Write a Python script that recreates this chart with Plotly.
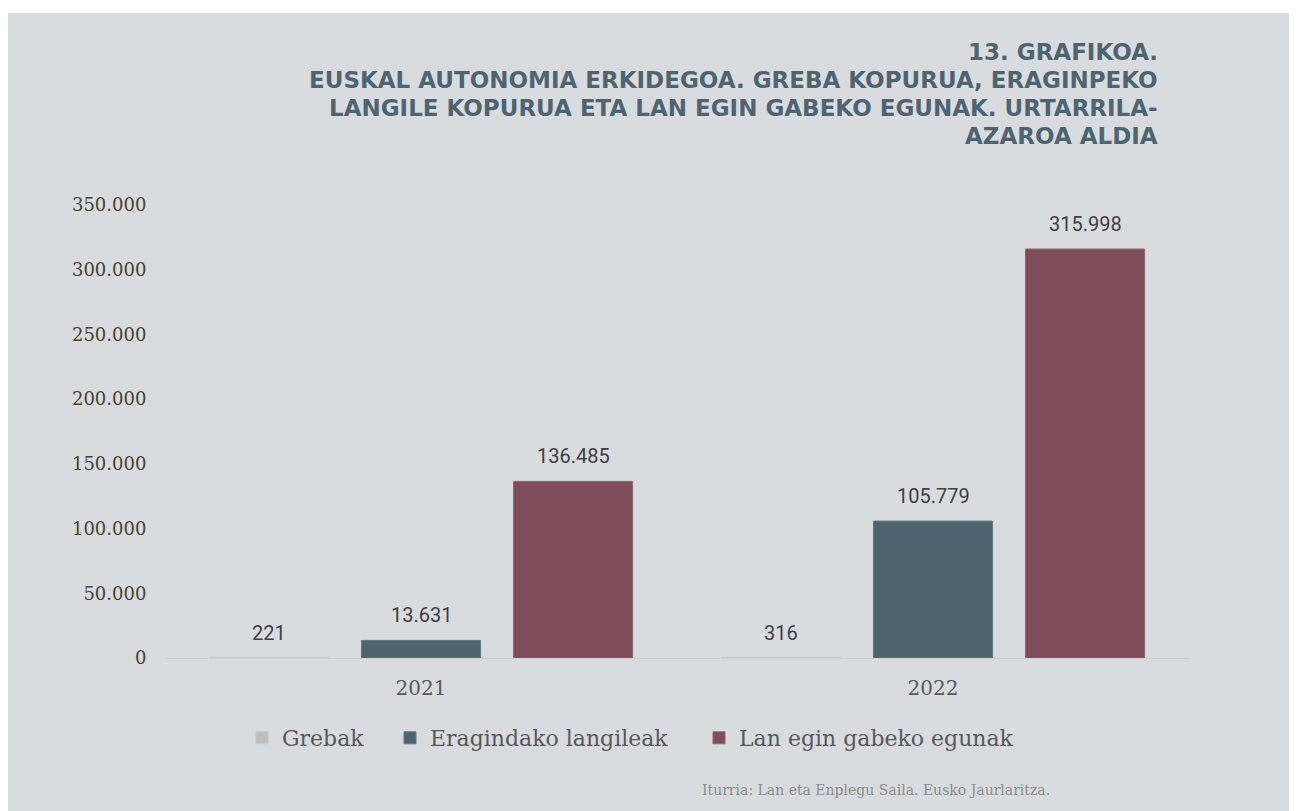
import plotly.graph_objects as go

years = ["2021", "2022"]
series_names = ["Grebak", "Eragindako langileak", "Lan egin gabeko egunak"]
grebak = [221, 316]
langileak = [13631, 105779]
egunak = [136485, 315998]
series_values = [grebak, langileak, egunak]
colors = ["#BFBFBF", "#4E6571", "#7E4C5A"]
line_colors = ["#C8C8C8", "#627883", "#93646F"]
y_ticks = [0, 50000, 100000, 150000, 200000, 250000, 300000, 350000]
y_tick_labels = ["0", "50.000", "100.000", "150.000", "200.000", "250.000", "300.000", "350.000"]
title_lines = [
    "13. GRAFIKOA.",
    "EUSKAL AUTONOMIA ERKIDEGOA. GREBA KOPURUA, ERAGINPEKO",
    "LANGILE KOPURUA ETA LAN EGIN GABEKO EGUNAK. URTARRILA-",
    "AZAROA ALDIA",
]
source_text = "Iturria: Lan eta Enplegu Saila. Eusko Jaurlaritza."

W, H = 1297, 803
ML, MR, MT, MB = 157, 116, 197, 153
PW = W - ML - MR
PH = H - MT - MB
BARGAP = 0.109
BARGROUPGAP = 0.217
BG = "#D9DCDF"
legend_x_px = [234, 382, 691]


def fmt(v):
    return f"{v:,}".replace(",", ".")


fig = go.Figure()
legend_ids = ["legend", "legend2", "legend3"]
for name, vals, c, lc, lid in zip(series_names, series_values, colors, line_colors, legend_ids):
    fig.add_trace(go.Bar(
        name=name, x=years, y=vals, legend=lid,
        marker=dict(color=c, line=dict(color=lc, width=1)),
    ))

annotations = []
# data labels
slot = PW / len(years) * (1 - BARGAP) / len(series_names)
for i, vals in enumerate(series_values):
    off = (i - (len(series_names) - 1) / 2) * slot
    for j, v in enumerate(vals):
        annotations.append(dict(
            x=j, y=v, xref="x", yref="y", text=fmt(v), showarrow=False,
            xshift=off, yshift=11, yanchor="bottom",
            font=dict(family="Roboto", size=20, color="#404040"),
        ))

# title lines
title_y_px = [44, 72, 100, 128]
for line, ypx in zip(title_lines, title_y_px):
    annotations.append(dict(
        x=(1152 - ML) / PW, y=(MT + PH - ypx) / PH, xref="paper", yref="paper",
        text=f"<b>{line}</b>", showarrow=False, xanchor="right", yanchor="middle",
        font=dict(family="DejaVu Sans", size=23, color="#4E6571"),
    ))

# source
annotations.append(dict(
    x=(1044 - ML) / PW, y=(MT + PH - 782) / PH, xref="paper", yref="paper",
    text=source_text, showarrow=False, xanchor="right", yanchor="middle",
    font=dict(family="DejaVu Serif", size=14, color="#8C8C8C"),
))

legend_common = dict(
    orientation="h", xanchor="left", yanchor="middle",
    y=(MT + PH - 730) / PH,
    font=dict(family="DejaVu Serif", size=22, color="#595959"),
    itemwidth=30, bgcolor="rgba(0,0,0,0)",
)
legends = {}
for lid, xpx in zip(legend_ids, legend_x_px):
    legends[lid] = dict(legend_common, x=(xpx - ML) / PW)

fig.update_layout(
    width=W, height=H,
    margin=dict(l=ML, r=MR, t=MT, b=MB, pad=0),
    paper_bgcolor=BG, plot_bgcolor=BG,
    barmode="group", bargap=BARGAP, bargroupgap=BARGROUPGAP,
    showlegend=True,
    annotations=annotations,
    shapes=[
        dict(type="rect", xref="paper", yref="paper",
             x0=-ML / PW - 0.01, x1=1.2, y0=(MT + PH - 5) / PH, y1=(MT + PH + 2) / PH,
             fillcolor="white", line=dict(width=0), layer="above"),
    ],
    xaxis=dict(
        type="category", range=[-0.5, 1.5], showgrid=False, showline=True,
        linecolor="#D0D0D0", linewidth=1,
        ticks="outside", ticklen=12, tickcolor="rgba(0,0,0,0)",
        tickfont=dict(family="DejaVu Serif", size=20, color="#595959"),
        zeroline=False,
    ),
    yaxis=dict(
        range=[0, 350000], tickvals=y_ticks, ticktext=y_tick_labels,
        showgrid=False, zeroline=False, showline=False,
        ticks="outside", ticklen=14, tickcolor="rgba(0,0,0,0)",
        tickfont=dict(family="DejaVu Serif", size=18, color="#48432E"),
    ),
    **legends,
)

fig.write_html("out.html")
